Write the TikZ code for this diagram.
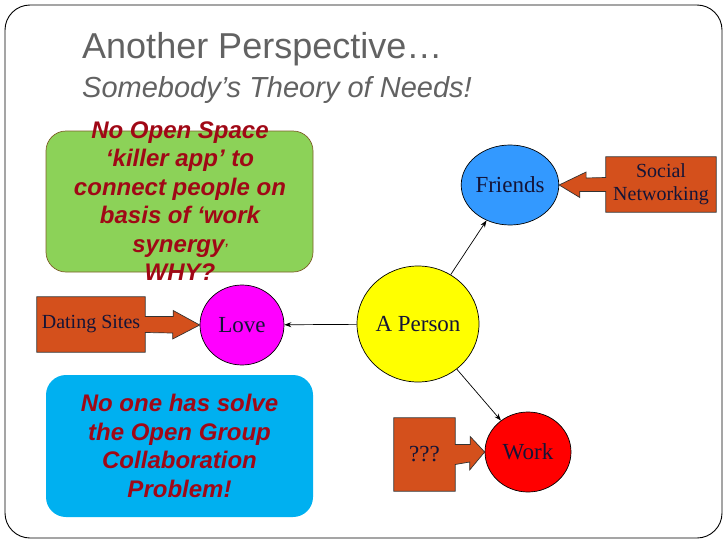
\documentclass[tikz,border=0pt]{standalone}
\usepackage{fontspec}
\setmainfont{Liberation Serif}
\setsansfont{Liberation Sans}
\usetikzlibrary{arrows.meta,positioning,calc,shapes.geometric,backgrounds}
\definecolor{slidegray}{RGB}{98,98,98}
\definecolor{needred}{RGB}{160,8,22}
\definecolor{nodetext}{RGB}{20,20,55}
\definecolor{boxgreen}{RGB}{140,210,88}
\definecolor{boxbrown}{RGB}{125,95,40}
\definecolor{boxblue}{RGB}{0,176,240}
\definecolor{rust}{RGB}{212,80,28}
\definecolor{lovemagenta}{RGB}{255,0,255}
\definecolor{friendsblue}{RGB}{51,153,255}
\definecolor{personyellow}{RGB}{255,255,0}
\definecolor{workred}{RGB}{255,0,0}
\tikzset{
  need/.style={ellipse,draw=black,line width=0.7pt,inner sep=0pt,text=nodetext,font=\fontsize{23}{26}\selectfont},
  srcbox/.style={inner sep=0pt,align=center,text=nodetext,font=\fontsize{20}{23}\selectfont},
  srcshape/.style={fill=rust,draw=black!80,line width=0.7pt},
  note/.style={rounded corners=20pt,minimum width=267pt,inner sep=0pt},
  notetext/.style={align=center,text=needred,font=\fontsize{24}{28.5}\selectfont\sffamily\bfseries\itshape},
  link/.style={-{Stealth[length=7pt,width=5pt]},draw=black,line width=0.7pt}
}

\begin{document}
\begin{tikzpicture}[x=1pt,y=-1pt]
\useasboundingbox (0,0) rectangle (728,546);
\draw[line width=0.9pt,rounded corners=25pt] (5,5) rectangle (722,538);
% title
\node[anchor=base west,inner sep=0pt,text=slidegray,font=\fontsize{36}{40}\selectfont\sffamily] (title) at (82,58) {Another Perspective…};
\node[anchor=base west,inner sep=0pt,text=slidegray,font=\fontsize{29}{32}\selectfont\sffamily\itshape] (subtitle) at (82,97) {Somebody’s Theory of Needs!};
% notes
\node[note,fill=boxgreen,draw=boxbrown,line width=0.7pt,minimum height=141pt] (greenbox) at (179.5,201.5) {};
\node[notetext] (greentext) at (180,201) {No Open Space\\‘killer app’ to\\connect people on\\basis of ‘work\\synergy{\fontsize{12}{12}\selectfont’}\\WHY?};
\node[note,fill=boxblue,minimum height=142pt,notetext] (bluebox) at (179.5,446) {No one has solve\\the Open Group\\Collaboration\\Problem!};
% needs
\node[need,fill=personyellow,minimum width=122pt,minimum height=116pt] (person) at (418,324) {A Person};
\node[need,fill=lovemagenta,minimum width=84pt,minimum height=80pt] (love) at (242,325) {Love};
\node[need,fill=friendsblue,minimum width=86pt,minimum height=80pt] (friends) at (510,185) {Friends};
\node[need,fill=workred,minimum width=86pt,minimum height=80pt] (work) at (528,452) {Work};
\draw[link] (person) -- (love);
\draw[link] (person) -- (friends);
\draw[link] (person) -- (work);
% sources
\node[srcbox,minimum width=108pt,minimum height=55pt] (dating) at (91,324.5) {Dating Sites};
\node[srcbox,minimum width=110pt,minimum height=55pt] (social) at (661,184.5) {Social\\Networking};
\node[srcbox,minimum width=61pt,minimum height=73pt,font=\fontsize{23}{26}\selectfont] (unknown) at (424.5,454.5) {???};
\begin{scope}[on background layer]
\draw[srcshape] (dating.north west) -- (dating.north east) -- ($(dating.east)+(0,-8)$) -- ++(28,0) -- ++(0,-6)
  -- (love.west) -- ++(-27,14) -- ++(0,-6) -- ($(dating.east)+(0,8)$) -- (dating.south east) -- (dating.south west) -- cycle;
\draw[srcshape] (social.north east) -- (social.south east) -- (social.south west) -- ($(social.west)+(0,7)$) -- ++(-26,0) -- ++(0,6)
  -- (friends.east) -- ++(27,-13) -- ++(0,6) -- ($(social.west)+(0,-7)$) -- (social.north west) -- cycle;
\draw[srcshape] (unknown.north west) -- (unknown.north east) -- ($(unknown.east)+(0,-10)$) -- ++(15,0) -- ++(0,-8)
  -- (work.west) -- ++(-15,18) -- ++(0,-8) -- ($(unknown.east)+(0,10)$) -- (unknown.south east) -- (unknown.south west) -- cycle;
\end{scope}
\end{tikzpicture}
\end{document}
